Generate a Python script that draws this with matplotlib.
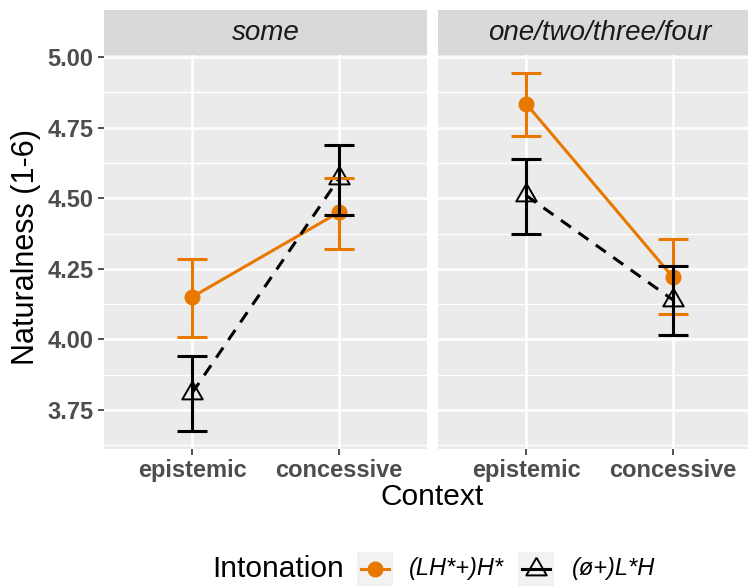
import numpy as np
import matplotlib
matplotlib.use("Agg")
import matplotlib.pyplot as plt

plt.rcParams['font.family'] = ['Liberation Sans', 'DejaVu Sans']

# ---- data ----
facets = ["some", "one/two/three/four"]
contexts = ["epistemic", "concessive"]
series = ["(LH*+)H*", "(\u00f8+)L*H"]

# mean naturalness per facet, per context
lh_mean = [[4.15, 4.45], [4.835, 4.22]]
lh_lo = [[4.01, 4.32], [4.72, 4.09]]
lh_hi = [[4.285, 4.57], [4.944, 4.355]]

l_mean = [[3.81, 4.57], [4.51, 4.14]]
l_lo = [[3.675, 4.44], [4.375, 4.015]]
l_hi = [[3.94, 4.69], [4.64, 4.26]]

y_ticks = [3.75, 4.00, 4.25, 4.50, 4.75, 5.00]
y_tick_labels = ["3.75", "4.00", "4.25", "4.50", "4.75", "5.00"]

ORANGE = "#E87800"
BLACK = "#000000"
PANEL = "#EBEBEB"
STRIP = "#D9D9D9"

W, H = 748, 586
fig = plt.figure(figsize=(W / 100, H / 100), dpi=100)

def fx(px):
    return px / W

def fy(py):
    return 1 - py / H

panel_w = 323
panel_top, panel_bot = 55, 449
lefts = [104, 438]

# equilateral open triangle
tri = [(0, 1.155), (-1, -0.577), (1, -0.577), (0, 1.155)]

all_vals = np.array(lh_lo + lh_hi + l_lo + l_hi).ravel()
ymin, ymax = all_vals.min(), all_vals.max()
pad = 0.05 * (ymax - ymin)
ylim = (ymin - pad, ymax + pad)

x = np.arange(1, len(contexts) + 1)
cap = 0.1

def errbars(ax, xs, lo, hi, color):
    for xi, a, b in zip(xs, lo, hi):
        ax.plot([xi, xi], [a, b], color=color, lw=2.2, solid_capstyle='butt', zorder=5)
        ax.plot([xi - cap, xi + cap], [a, a], color=color, lw=2.2, solid_capstyle='butt', zorder=5)
        ax.plot([xi - cap, xi + cap], [b, b], color=color, lw=2.2, solid_capstyle='butt', zorder=5)

for i, facet in enumerate(facets):
    ax = fig.add_axes([fx(lefts[i]), fy(panel_bot), fx(panel_w), (panel_bot - panel_top) / H])
    ax.set_facecolor(PANEL)
    ax.set_xlim(0.4, 2.6)
    ax.set_ylim(*ylim)
    for s in ax.spines.values():
        s.set_visible(False)
    # grid
    minor = [t + 0.125 for t in [3.5] + y_ticks]
    for m in minor:
        ax.axhline(m, color="white", lw=0.9, zorder=0)
    for t in y_ticks:
        ax.axhline(t, color="white", lw=1.8, zorder=0)
    for xi in x:
        ax.axvline(xi, color="white", lw=1.8, zorder=0)

    # points
    ax.plot(x, lh_mean[i], linestyle="none", marker="o", ms=10.5, color=ORANGE, zorder=2)
    ax.plot(x, l_mean[i], linestyle="none", marker=tri, ms=17, mfc="none",
            mec=BLACK, mew=1.4, zorder=2)
    # lines
    ax.plot(x, lh_mean[i], color=ORANGE, lw=2.2, zorder=3)
    ax.plot(x, l_mean[i], color=BLACK, lw=2.2, dashes=(4, 3), zorder=3)
    # error bars
    errbars(ax, x, lh_lo[i], lh_hi[i], ORANGE)
    errbars(ax, x, l_lo[i], l_hi[i], BLACK)

    ax.set_xticks(x)
    ax.set_xticklabels(contexts, fontsize=17, fontweight="bold", color="#4D4D4D")
    ax.set_yticks(y_ticks)
    if i == 0:
        ax.set_yticklabels(y_tick_labels, fontsize=17, fontweight="bold", color="#4D4D4D")
    else:
        ax.tick_params(axis="y", labelleft=False, left=False)
    ax.tick_params(axis="both", color="#333333", length=4.5, width=1.2, pad=3)

    # facet strip
    sax = fig.add_axes([fx(lefts[i]), fy(panel_top), fx(panel_w), 45 / H])
    sax.set_facecolor(STRIP)
    sax.set_xticks([])
    sax.set_yticks([])
    for s in sax.spines.values():
        s.set_visible(False)
    sax.text(0.5, 0.5, facet, transform=sax.transAxes, ha="center", va="center",
             fontsize=20, fontstyle="italic", color="#1A1A1A")

# axis titles
fig.text(fx(432), fy(497), "Context", ha="center", va="center", fontsize=21.5)
fig.text(fx(26), fy(247), "Naturalness (1-6)", ha="center", va="center",
         rotation=90, fontsize=22)

# legend
leg_y = 569
fig.text(fx(212), fy(leg_y), "Intonation", ha="left", va="center", fontsize=21.5)
keys = [(357, ORANGE, "o", series[0], 409),
        (518, BLACK, "tri", series[1], 572)]
for kx, col, mk, lab, tx in keys:
    kax = fig.add_axes([fx(kx), fy(587), fx(36), 35 / H])
    kax.set_facecolor("#F2F2F2")
    kax.set_xlim(0, 1)
    kax.set_ylim(0, 1)
    kax.set_xticks([])
    kax.set_yticks([])
    for s in kax.spines.values():
        s.set_visible(False)
    ky = (587 - leg_y) / 35
    kax.plot([0.1, 0.9], [ky, ky], color=col, lw=2.2)
    if mk == "o":
        kax.plot([0.5], [ky], marker="o", ms=10.5, color=col)
    else:
        kax.plot([0.5], [ky], marker=tri, ms=17, mfc="none", mec=col, mew=1.4)
    fig.text(fx(tx), fy(leg_y), lab, ha="left", va="center", fontsize=17,
             fontstyle="italic")

fig.savefig("out.png", dpi=100)
